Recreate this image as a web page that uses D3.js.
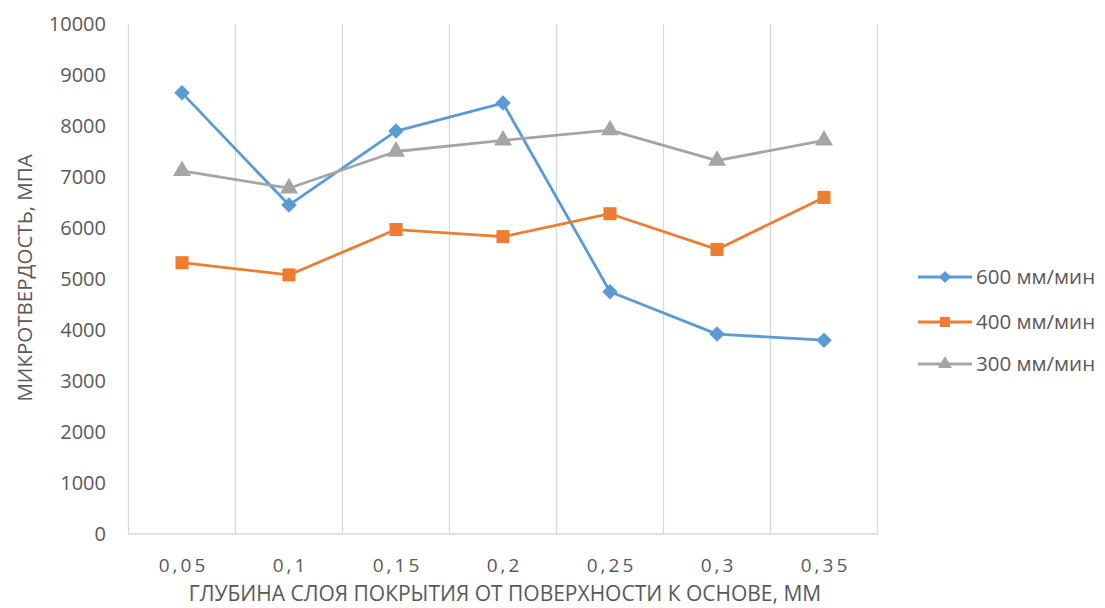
<!DOCTYPE html>
<html><head><meta charset="utf-8">
<script src="https://cdn.jsdelivr.net/npm/d3@7"></script>
<style>body{margin:0;background:#fff}svg{display:block}</style>
</head><body><svg id="c" width="1105" height="608"></svg>
<script>
const categories = ["0,05","0,1","0,15","0,2","0,25","0,3","0,35"];
const s600 = [8650,6450,7900,8450,4750,3920,3800];
const s400 = [5320,5080,5970,5830,6280,5580,6600];
const s300 = [7120,6780,7500,7720,7920,7320,7720];
const yTicks = [0,1000,2000,3000,4000,5000,6000,7000,8000,9000,10000];
const seriesNames = ["600 мм/мин","400 мм/мин","300 мм/мин"];
const xTitle = "ГЛУБИНА СЛОЯ ПОКРЫТИЯ ОТ ПОВЕРХНОСТИ К ОСНОВЕ, ММ";
const yTitle = "МИКРОТВЕРДОСТЬ, МПА";

const series = [
  {name: seriesNames[0], values: s600, color: "#5B9BD5", sym: d3.symbolSquare, size: 120, rot: 45},
  {name: seriesNames[1], values: s400, color: "#ED7D31", sym: d3.symbolSquare, size: 170, rot: 0},
  {name: seriesNames[2], values: s300, color: "#A5A5A5", sym: d3.symbolTriangle, size: 140, rot: 0}
];

const svg = d3.select("#c");
const font = "'Open Sans', sans-serif";
const txt = "#595959";
const L = 128.5, R = 877.5, T = 24, B = 534;

const x = d3.scaleBand().domain(categories).range([L, R]);
const y = d3.scaleLinear().domain([0, 10000]).range([B, T]);

// vertical gridlines at band boundaries
const bounds = categories.map(c => x(c)).concat([R]);
svg.append("g").selectAll("line").data(bounds).join("line")
  .attr("x1", d => d).attr("x2", d => d).attr("y1", T).attr("y2", B)
  .attr("stroke", "#D9D9D9").attr("stroke-width", 1.3);
svg.append("line").attr("x1", L).attr("x2", R).attr("y1", B).attr("y2", B)
  .attr("stroke", "#D9D9D9").attr("stroke-width", 1.3);

// y tick labels
svg.append("g").selectAll("text").data(yTicks).join("text")
  .attr("x", 106).attr("y", d => y(d)).attr("dy", "0.35em")
  .attr("text-anchor", "end").attr("fill", txt)
  .style("font-family", font).style("font-size", "20px")
  .text(d => d);

// x tick labels
svg.append("g").selectAll("text").data(categories).join("text")
  .attr("x", d => x(d) + x.bandwidth() / 2 + 1.5).attr("y", 572)
  .attr("text-anchor", "middle").attr("fill", txt)
  .style("font-family", font).style("font-size", "19px").style("letter-spacing", "3px")
  .text(d => d);

// axis titles
svg.append("text").attr("x", (L + R) / 2 + 2).attr("y", 601)
  .attr("text-anchor", "middle").attr("fill", txt)
  .style("font-family", font).style("font-size", "21px")
  .text(xTitle);
svg.append("text").attr("transform", "translate(32,278) rotate(-90)")
  .attr("text-anchor", "middle").attr("fill", txt)
  .style("font-family", font).style("font-size", "20.5px")
  .text(yTitle);

// series
const line = d3.line().x((d, i) => x(categories[i]) + x.bandwidth() / 2).y(d => y(d));
series.forEach(s => {
  svg.append("path").datum(s.values).attr("d", line)
    .attr("fill", "none").attr("stroke", s.color).attr("stroke-width", 2.8)
    .attr("stroke-linejoin", "round");
  svg.append("g").selectAll("path").data(s.values).join("path")
    .attr("transform", (d, i) => `translate(${x(categories[i]) + x.bandwidth() / 2},${y(d)}) rotate(${s.rot})`)
    .attr("d", d3.symbol().type(s.sym).size(s.size))
    .attr("fill", s.color);
});

// legend
const legY = [277, 322, 364];
series.forEach((s, i) => {
  const g = svg.append("g").attr("transform", `translate(918,${legY[i]})`);
  g.append("line").attr("x1", 0).attr("x2", 54).attr("stroke", s.color).attr("stroke-width", 2.8);
  g.append("path").attr("transform", `translate(27,0) rotate(${s.rot})`)
    .attr("d", d3.symbol().type(s.sym).size(s.size * 0.6)).attr("fill", s.color);
  g.append("text").attr("x", 58).attr("dy", "0.35em").attr("fill", txt)
    .style("font-family", font).style("font-size", "20.5px").text(s.name);
});
</script></body></html>
